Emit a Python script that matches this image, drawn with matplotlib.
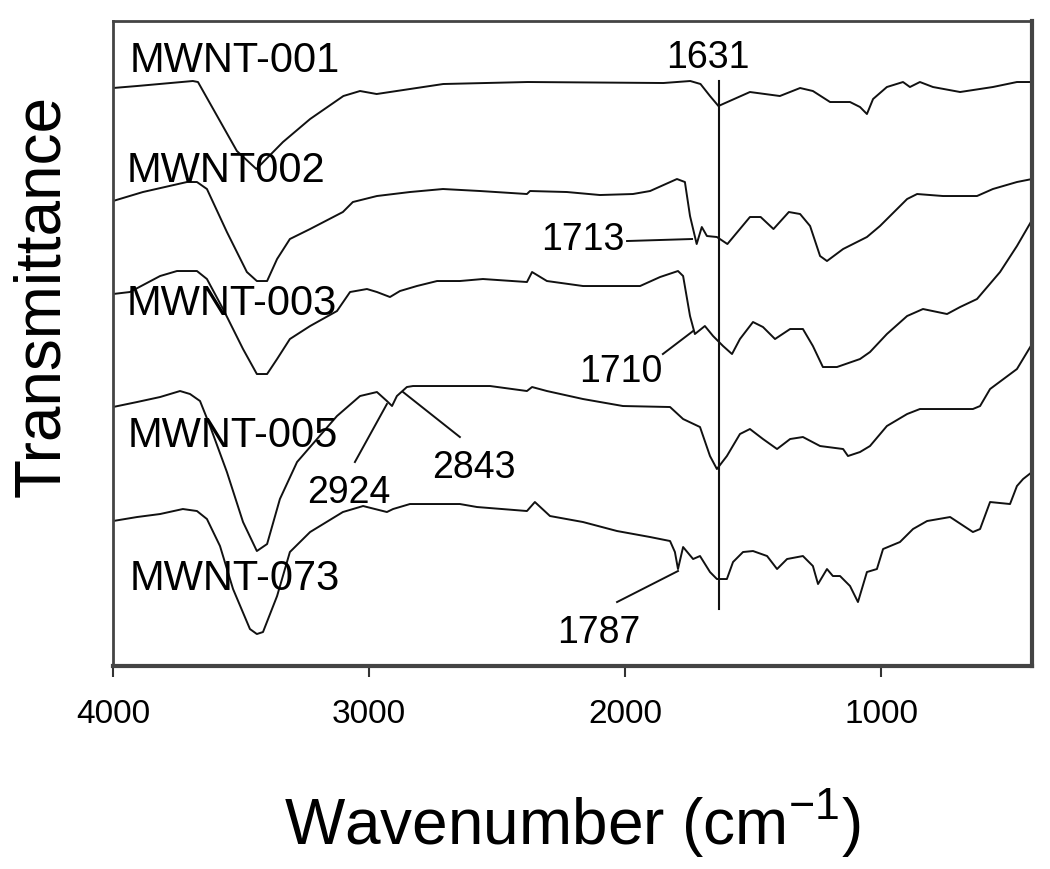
import numpy as np
import matplotlib
matplotlib.use("Agg")
import matplotlib.pyplot as plt

plt.rcParams['font.family'] = ['Liberation Sans', 'DejaVu Sans']

# FTIR spectra (wavenumber in cm-1, offset transmittance in arbitrary units)
wn_001 = [4000, 3906, 3688, 3668, 3516, 3440, 3336, 3230, 3100, 3035, 2970, 2840, 2710, 2380,
          1850, 1745, 1705, 1668, 1635, 1600, 1512, 1395, 1316, 1266, 1199, 1121, 1082, 1055,
          1031, 977, 914, 887, 848, 797, 691, 563, 469, 410]
t_001 = [578, 580, 585, 584, 515, 497, 524, 547, 570, 575, 572, 577, 582, 584,
         583, 585, 582, 570, 560, 564, 574, 570, 578, 575, 564, 564, 559, 552,
         567, 579, 584, 579, 584, 579, 574, 579, 584, 584]

wn_002 = [4000, 3883, 3711, 3672, 3633, 3555, 3477, 3438, 3398, 3359, 3309, 3230, 3102, 3063,
          2969, 2840, 2711, 2566, 2383, 2371, 2227, 2098, 1969, 1902, 1797, 1766, 1746, 1720,
          1700, 1680, 1641, 1600, 1512, 1470, 1420, 1360, 1316, 1277, 1238, 1211, 1148, 1055,
          1004, 898, 859, 758, 625, 563, 469, 410]
t_002 = [465, 474, 484, 484, 477, 434, 394, 385, 385, 407, 427, 437, 454, 464,
         470, 474, 477, 475, 472, 475, 474, 471, 472, 475, 487, 484, 450, 422,
         439, 430, 429, 422, 449, 449, 437, 454, 452, 440, 410, 405, 417, 429,
         440, 467, 472, 470, 470, 477, 484, 487]

wn_003 = [4000, 3934, 3816, 3750, 3672, 3633, 3570, 3492, 3438, 3398, 3359, 3309, 3230, 3125,
          3074, 3008, 2969, 2918, 2879, 2813, 2734, 2645, 2555, 2383, 2363, 2305, 2164, 1941,
          1863, 1793, 1773, 1746, 1727, 1688, 1656, 1617, 1582, 1551, 1500, 1461, 1414, 1355,
          1305, 1266, 1227, 1172, 1082, 1043, 977, 898, 836, 742, 691, 625, 535, 469, 410]
t_003 = [372, 374, 390, 395, 395, 387, 357, 317, 292, 292, 307, 327, 340, 355,
         374, 377, 374, 369, 375, 380, 385, 385, 387, 384, 394, 385, 380, 380,
         389, 395, 390, 350, 332, 340, 330, 320, 312, 327, 344, 339, 327, 337,
         337, 320, 299, 299, 307, 314, 332, 350, 357, 352, 359, 367, 394, 420, 446]

wn_005 = [4000, 3906, 3816, 3738, 3699, 3660, 3621, 3555, 3492, 3438, 3398, 3348, 3281, 3203,
          3125, 3035, 2969, 2930, 2910, 2891, 2852, 2828, 2645, 2527, 2383, 2363, 2305, 2164,
          2008, 1824, 1773, 1707, 1668, 1641, 1602, 1551, 1512, 1461, 1406, 1355, 1305, 1238,
          1148, 1129, 1082, 1043, 977, 898, 848, 641, 613, 574, 469, 410]
t_005 = [259, 264, 269, 275, 272, 265, 240, 194, 144, 115, 122, 167, 204, 227,
         250, 270, 274, 265, 260, 270, 279, 280, 280, 280, 275, 279, 275, 267,
         260, 259, 247, 239, 210, 197, 210, 232, 237, 227, 217, 227, 229, 220,
         217, 210, 214, 220, 240, 252, 257, 257, 260, 277, 297, 322]

wn_073 = [4000, 3906, 3816, 3727, 3672, 3633, 3582, 3531, 3465, 3438, 3414, 3359, 3309, 3230,
          3102, 3023, 2930, 2906, 2840, 2645, 2578, 2383, 2352, 2293, 2164, 2031, 1902, 1824,
          1805, 1793, 1773, 1734, 1707, 1668, 1641, 1602, 1578, 1539, 1500, 1445, 1406, 1367,
          1305, 1266, 1246, 1211, 1188, 1160, 1121, 1090, 1055, 1016, 992, 926, 875, 820,
          730, 641, 613, 574, 496, 469, 445, 410]
t_073 = [145, 149, 152, 157, 155, 147, 120, 77, 37, 32, 34, 70, 114, 134,
         154, 160, 154, 157, 162, 162, 159, 155, 164, 150, 144, 135, 129, 125,
         114, 97, 119, 107, 110, 94, 87, 87, 104, 114, 115, 110, 97, 107,
         110, 100, 82, 97, 90, 90, 80, 64, 94, 97, 117, 124, 137, 145,
         149, 134, 137, 164, 162, 180, 187, 194]

spectra = [(wn_001, t_001), (wn_002, t_002), (wn_003, t_003), (wn_005, t_005), (wn_073, t_073)]

# sample names: (text, x, baseline y)
names = [("MWNT-001", 3934, 595), ("MWNT002", 3945, 485), ("MWNT-003", 3945, 352),
         ("MWNT-005", 3941, 220), ("MWNT-073", 3934, 77)]

# peak labels: (text, text x, text y, align, leader start, leader end)
peaks = [("1713", 2000, 417, "right", (1992, 425), (1738, 427)),
         ("1710", 1855, 285, "right", (1852, 312), (1734, 335)),
         ("2924", 3242, 164, "left", (3055, 204), (2930, 262)),
         ("2843", 2754, 189, "left", (2645, 229), (2867, 274)),
         ("1787", 2266, 24, "left", (2031, 64), (1793, 95))]

line_1631 = 1631

fig = plt.figure(figsize=(10.5, 8.7), dpi=100)
ax = fig.add_axes([0.1076, 0.2333, 0.8753, 0.7414])

for wn, t in spectra:
    ax.plot(wn, t, color='#111111', lw=1.4)

ax.plot([line_1631, line_1631], [57, 585], color='#111111', lw=1.5)
ax.text(1676, 599, "1631", fontsize=27, ha='center', va='baseline')

for txt, x, y in names:
    ax.text(x, y, txt, fontsize=30, ha='left', va='baseline')

for txt, x, y, ha, p0, p1 in peaks:
    ax.text(x, y, txt, fontsize=27, ha=ha, va='baseline')
    ax.plot([p0[0], p1[0]], [p0[1], p1[1]], color='#111111', lw=1.4)

ax.set_xlim(4000, 410)
ax.set_ylim(0, 645)
ax.set_xticks([4000, 3000, 2000, 1000])
ax.set_yticks([])
ax.tick_params(axis='x', direction='out', length=8, width=1.5, pad=15, labelsize=24, color='#333333')
for s in ax.spines.values():
    s.set_color('#444444')
    s.set_linewidth(2)
ax.spines['bottom'].set_linewidth(3)
ax.spines['right'].set_linewidth(3)

ax.set_xlabel(r'Wavenumber (cm$^{\mathregular{-1}}$)', fontsize=46, labelpad=40)
fig.text(42 / 1050, 1 - 296 / 870, 'Transmittance', fontsize=46, rotation=90,
         ha='center', va='center')

fig.savefig('out.png', dpi=100)
